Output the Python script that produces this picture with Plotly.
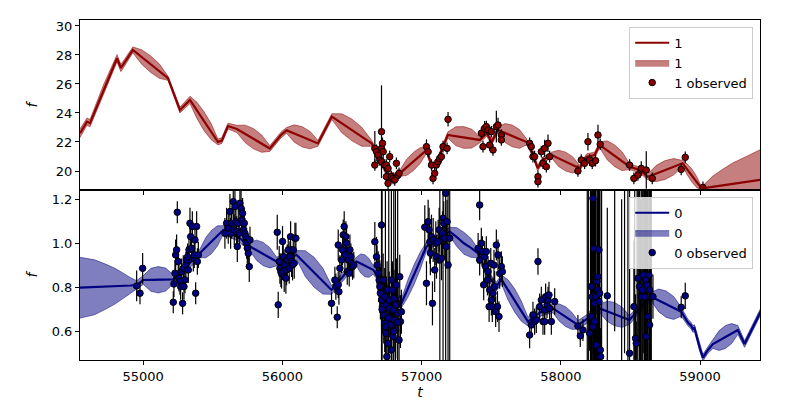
import plotly.graph_objects as go
from plotly.subplots import make_subplots

# ---------------- Top panel (series "1") : model knots ----------------
m1_t = [54546, 54596, 54618, 54715, 54812, 54840, 54926, 54989, 55052, 55115, 55178, 55264, 55336,
        55386, 55436, 55487, 55537, 55565, 55609, 55673, 55732, 55791, 55851, 55910, 55990, 56030,
        56086, 56143, 56199, 56255, 56355, 56427, 56499, 56570, 56642, 56750, 56822, 56843, 56891,
        56940, 56988, 57037, 57073, 57116, 57188, 57245, 57303, 57361, 57418, 57468, 57504, 57547,
        57599, 57651, 57703, 57755, 57798, 57834, 57870, 57934, 57984, 58035, 58085, 58135, 58186,
        58243, 58279, 58333, 58387, 58440, 58494, 58566, 58624, 58687, 58750, 58812, 58875, 58909,
        58943, 58977, 59011, 59040, 59090, 59160, 59234, 59330, 59440]
m1_mean = [22.6, 23.4, 23.3, 25.6, 27.77, 27.1, 28.35, 27.86, 27.38, 26.89, 26.4, 24.2, 24.9,
           24.18, 23.45, 22.73, 22.0, 22.1, 23.1, 22.9, 22.56, 22.23, 21.89, 21.55, 22.48, 22.8,
           22.58, 22.35, 22.13, 21.9, 23.75, 23.29, 22.83, 22.36, 21.9, 19.84, 19.6, 19.84, 20.24,
           20.65, 21.05, 21.45, 20.3, 20.76, 22.48, 22.4, 22.31, 22.23, 22.14, 22.6, 22.0, 22.83,
           22.62, 22.42, 22.21, 22.0, 21.2, 20.19, 20.76, 21.1, 20.87, 20.65, 20.42, 20.19, 20.99,
           21.1, 21.8, 21.43, 21.05, 20.68, 20.3, 20.07, 19.6, 19.83, 20.07, 20.3, 20.53, 20.1,
           19.67, 19.23, 18.8, 18.84, 18.91, 19.0, 19.1, 19.24, 19.4]
m1_hw = [0.3, 0.25, 0.25, 0.35, 0.25, 0.25, 0.2, 0.5, 0.57, 0.5, 0.15, 0.2, 0.25,
         0.56, 0.65, 0.56, 0.2, 0.2, 0.2, 0.25, 0.6, 0.7, 0.6, 0.2, 0.2, 0.2,
         0.6, 0.7, 0.6, 0.2, 0.2, 0.65, 0.75, 0.65, 0.2, 0.2, 0.2, 0.2, 0.55,
         0.63, 0.55, 0.2, 0.2, 0.2, 0.2, 0.65, 0.75, 0.65, 0.2, 0.2, 0.2, 0.2,
         0.65, 0.75, 0.65, 0.2, 0.2, 0.2, 0.2, 0.2, 0.56, 0.65, 0.56, 0.2, 0.2,
         0.2, 0.2, 0.65, 0.75, 0.65, 0.2, 0.2, 0.2, 0.56, 0.65, 0.56, 0.2, 0.38,
         0.45, 0.38, 0.1, 0.35, 0.72, 1.1, 1.45, 1.75, 2.1]

o1_t = [56664, 56676, 56664, 56688, 56700, 56712, 56712, 56719, 56724, 56712, 56735, 56747, 56747,
        56759, 56759, 56771, 56783, 56795, 56807, 56819, 56831, 56838, 57035, 57047, 57071, 57082,
        57094, 57106, 57118, 57130, 57142, 57154, 57183, 57190, 57429, 57441, 57453, 57465, 57477,
        57489, 57501, 57513, 57537, 57549, 57573, 57573, 57776, 57788, 57800, 57812, 57836, 57836,
        57860, 57872, 57884, 57896, 57908, 57920, 58123, 58147, 58171, 58195, 58207, 58226, 58250,
        58267, 58283, 58494, 58525, 58554, 58578, 58614, 58657, 58865, 58894, 59021]
o1_f = [21.56, 21.33, 20.41, 21.10, 20.76, 22.71, 21.56, 21.91, 21.33, 20.64, 20.41, 20.41, 19.61,
        20.18, 19.15, 20.99, 19.61, 19.49, 19.38, 20.53, 19.72, 19.84, 21.68, 21.33, 20.41, 19.49,
        19.84, 20.41, 20.64, 20.87, 20.99, 21.68, 21.56, 23.56, 22.60, 21.68, 22.94, 23.06, 22.83,
        21.79, 22.71, 21.45, 23.06, 23.17, 22.48, 22.14, 21.91, 21.68, 20.99, 20.99, 19.61, 19.26,
        21.33, 20.53, 21.56, 20.30, 21.91, 20.99, 20.00, 20.76, 20.53, 22.02, 20.76, 20.53, 20.71,
        22.48, 21.84, 20.41, 19.49, 19.72, 20.18, 20.07, 19.49, 20.11, 20.94, 18.87]
o1_e = [1.2, 0.5, 0.4, 0.4, 0.4, 3.2, 0.5, 0.4, 0.5, 0.4, 0.4, 0.4, 0.4,
        0.4, 0.4, 0.4, 0.4, 0.4, 0.4, 0.4, 0.4, 0.4, 0.5, 0.4, 0.4, 0.4,
        0.4, 0.4, 0.4, 0.4, 0.4, 0.4, 0.4, 0.5, 0.4, 0.4, 0.5, 0.4, 0.4,
        0.4, 0.4, 0.4, 1.1, 0.5, 0.4, 0.4, 0.4, 0.4, 0.4, 0.4, 0.4, 0.4,
        0.4, 0.4, 0.6, 0.4, 0.6, 0.4, 0.4, 0.4, 0.4, 0.6, 0.4, 0.4, 0.4,
        0.7, 0.4, 0.4, 0.4, 0.4, 0.5, 1.3, 0.4, 0.4, 0.4, 0.4]

# ---------------- Bottom panel (series "0") : model knots ----------------
m0_t = [54546, 54650, 54738, 54800, 54857, 54910, 54953, 55001, 55055, 55109, 55162, 55216, 55270,
        55408, 55450, 55490, 55533, 55575, 55680, 55767, 55815, 55862, 55910, 55958, 56030, 56102,
        56165, 56228, 56290, 56353, 56450, 56532, 56562, 56592, 56622, 56652, 56750, 56855, 56900,
        56945, 56990, 57035, 57120, 57202, 57253, 57304, 57355, 57406, 57480, 57537, 57573, 57621,
        57669, 57716, 57764, 57860, 57944, 57989, 58034, 58078, 58123, 58195, 58231, 58279, 58333,
        58386, 58440, 58494, 58560, 58650, 58704, 58757, 58811, 58865, 58913, 58937, 58949, 58960,
        58997, 59021, 59057, 59093, 59138, 59183, 59228, 59272, 59320, 59440]
m0_mean = [0.798, 0.80, 0.803, 0.805, 0.807, 0.808, 0.81, 0.833, 0.834, 0.834, 0.835, 0.836, 0.87,
           0.954, 0.98, 1.005, 1.033, 1.06, 1.03, 0.985, 0.968, 0.951, 0.934, 0.917, 0.93, 0.947,
           0.907, 0.868, 0.828, 0.788, 0.86, 0.917, 0.908, 0.898, 0.888, 0.879, 0.80, 0.727, 0.792,
           0.856, 0.92, 0.985, 1.02, 1.053, 1.028, 1.0, 0.979, 0.954, 0.85, 0.803, 0.836, 0.788,
           0.74, 0.692, 0.644, 0.69, 0.704, 0.685, 0.667, 0.648, 0.629, 0.659, 0.69, 0.704, 0.691,
           0.678, 0.664, 0.651, 0.70, 0.757, 0.74, 0.723, 0.706, 0.689, 0.64, 0.625, 0.61, 0.615,
           0.527, 0.48, 0.515, 0.542, 0.558, 0.574, 0.59, 0.606, 0.542, 0.695]
m0_hw = [0.138, 0.125, 0.1, 0.08, 0.057, 0.035, 0.02, 0.02, 0.052, 0.06, 0.052, 0.02, 0.02,
         0.02, 0.046, 0.053, 0.046, 0.02, 0.02, 0.02, 0.046, 0.053, 0.046, 0.02, 0.02, 0.02,
         0.059, 0.068, 0.059, 0.02, 0.02, 0.02, 0.043, 0.05, 0.043, 0.02, 0.02, 0.02, 0.039,
         0.045, 0.039, 0.02, 0.02, 0.02, 0.043, 0.05, 0.043, 0.02, 0.02, 0.02, 0.02, 0.046,
         0.053, 0.046, 0.02, 0.02, 0.02, 0.039, 0.045, 0.039, 0.02, 0.02, 0.02, 0.02, 0.046,
         0.053, 0.046, 0.02, 0.02, 0.02, 0.052, 0.06, 0.052, 0.02, 0.015, 0.015, 0.015, 0.015,
         0.015, 0.015, 0.015, 0.02, 0.045, 0.052, 0.045, 0.02, 0.015, 0.015]

o0_t = [54953, 54977, 54996,
        55216, 55221, 55228, 55233, 55240, 55245, 55252, 55257, 55264, 55269, 55276, 55283, 55288,
        55293, 55300, 55307, 55312, 55319, 55324, 55329, 55336, 55341, 55348, 55353, 55360, 55367,
        55372, 55377, 55384, 55389, 55396,
        55587, 55599, 55611, 55623, 55628, 55635, 55647, 55654, 55659, 55666, 55671, 55676, 55683,
        55690, 55695, 55703, 55707, 55714, 55719, 55726, 55731, 55738, 55743, 55748, 55755, 55762,
        55767,
        55963, 55970, 55977, 55982, 55989, 55994, 56001, 56006, 56013, 56018, 56025, 56030, 56035,
        56042, 56049, 56054, 56059, 56066, 56073, 56078, 56085, 56090, 56097,
        56353, 56377, 56384, 56394, 56401, 56406, 56401, 56413, 56425, 56432, 56437, 56444, 56449,
        56456, 56461, 56466, 56473, 56480, 56485, 56492, 56497, 56504, 56513,
        56664, 56676, 56680, 56688, 56695, 56700, 56704, 56712, 56712, 56719, 56724, 56728, 56735,
        56735, 56743, 56747, 56752, 56759, 56759, 56767, 56771, 56776, 56783, 56783, 56791, 56795,
        56795, 56802, 56807, 56814, 56819, 56824, 56831, 56838, 56843, 56848, 56855, 56750,
        56716, 56740, 56764, 56800, 56812, 56828,
        57023, 57035, 57047, 57054, 57059, 57063, 57071, 57078, 57083, 57094, 57102, 57107, 57119,
        57126, 57131, 57143, 57150, 57154, 57159, 57166, 57173, 57178, 57183, 57190, 57202,
        57406, 57417, 57417, 57429, 57437, 57446, 57453, 57461, 57465, 57473, 57477, 57485, 57489,
        57497, 57501, 57508, 57513, 57520, 57525, 57532, 57537, 57545, 57549, 57556, 57561, 57573,
        57580,
        57776, 57788, 57800, 57812, 57824, 57836, 57848, 57860, 57872, 57884, 57891, 57901, 57908,
        57915, 57920, 57932, 57956, 57884,
        58123, 58140, 58159, 58207, 58219, 58219, 58226, 58231, 58236, 58243, 58250, 58255, 58260,
        58267, 58267, 58274, 58279, 58284, 58286, 58231, 58243, 58274, 58334,
        58190, 58198, 58213, 58222, 58238, 58247, 58262, 58271, 58290, 58293, 58387, 58437,
        58494, 58525, 58537, 58542, 58554, 58566, 58578, 58585, 58590, 58602, 58609, 58614, 58619,
        58626, 58633, 58638, 58638, 58662,
        58458, 58482, 58531, 58548, 58560, 58572, 58596, 58622, 58645, 58650,
        58865, 58894]
o0_f = [0.806, 0.773, 0.886,
        0.732, 0.815, 0.864, 0.947, 0.970, 1.141, 0.917, 0.841, 0.826, 0.803, 0.871, 0.727, 0.886,
        0.803, 0.833, 0.901, 0.924, 0.939, 0.879, 0.970, 1.091, 1.030, 0.977, 1.076, 0.932, 0.947,
        1.015, 0.773, 1.076, 0.917, 0.947,
        1.045, 1.091, 1.068, 1.144, 1.045, 1.091, 1.189, 1.061, 1.167, 1.098, 1.053, 0.985, 1.091,
        1.045, 1.182, 1.159, 1.106, 1.136, 1.061, 1.091, 1.045, 1.030, 1.000, 0.977, 0.954, 0.894,
        1.015,
        1.050, 0.720, 0.917, 0.886, 0.871, 0.864, 1.008, 0.939, 0.848, 0.901, 0.841, 0.879, 0.924,
        0.970, 0.886, 0.939, 1.030, 0.917, 0.901, 0.970, 0.909, 1.023, 1.023,
        0.727, 0.833, 0.803, 0.664, 0.811, 0.780, 0.992, 0.886, 0.924, 0.970, 1.038, 1.076, 0.947,
        1.030, 1.000, 0.871, 0.924, 0.864, 0.970, 0.939, 0.909, 0.894, 0.901,
        1.007, 0.939, 0.901, 0.864, 0.833, 0.803, 0.773, 1.083, 0.742, 0.712, 0.833, 0.674, 0.636,
        0.757, 0.591, 0.719, 0.788, 0.545, 0.667, 0.742, 0.704, 0.629, 0.833, 0.515, 0.788, 0.697,
        0.576, 0.750, 0.651, 0.606, 0.811, 0.719, 0.682, 0.560, 0.848, 0.644, 0.689, 0.485,
        0.70, 0.62, 0.66, 0.60, 0.72, 0.64,
        1.073, 0.818, 1.098, 1.061, 1.007, 0.955, 1.030, 0.727, 1.015, 0.879, 1.000, 0.939, 1.007,
        1.061, 0.924, 0.932, 1.045, 1.114, 1.091, 1.023, 1.227, 0.985, 1.098, 0.901, 1.023,
        0.977, 1.174, 0.924, 1.000, 0.962, 0.811, 0.939, 0.894, 0.962, 0.833, 0.871, 0.712, 0.788,
        0.909, 0.742, 0.712, 0.773, 0.901, 0.803, 0.689, 0.992, 0.712, 0.947, 0.667, 0.863, 0.894,
        0.871,
        0.583, 0.629, 0.674, 0.644, 0.652, 0.917, 0.712, 0.742, 0.644, 0.697, 0.757, 0.720, 0.742,
        0.765, 0.704, 0.644, 0.735, 0.644,
        0.624, 0.579, 0.606, 0.591, 0.667, 0.803, 0.757, 1.204, 0.977, 0.727, 0.757, 0.538, 0.826,
        0.788, 0.848, 0.970, 0.773, 0.515, 0.485, 0.621, 0.644, 0.735, 0.761,
        0.30, 1.40, 0.25, 1.50, 0.35, 1.45, 0.20, 1.55, 0.30, 1.40, 1.60, 0.20,
        0.500, 0.712, 0.568, 0.545, 0.841, 0.803, 0.757, 0.788, 0.856, 0.757, 0.833, 0.576, 0.810,
        0.667, 0.856, 0.629, 0.788, 0.757,
        1.50, 0.25, 1.45, 0.30, 1.55, 0.20, 1.50, 0.25, 1.45, 0.30,
        0.709, 0.761]
o0_e = [0.07, 0.05, 0.07,
        0.05, 0.06, 0.06, 0.07, 0.07, 0.05, 0.06, 0.06, 0.06, 0.06, 0.06, 0.05, 0.06,
        0.06, 0.06, 0.06, 0.06, 0.06, 0.06, 0.06, 0.07, 0.07, 0.06, 0.07, 0.06, 0.06,
        0.07, 0.05, 0.07, 0.06, 0.06,
        0.07, 0.07, 0.07, 0.08, 0.07, 0.07, 0.08, 0.07, 0.08, 0.07, 0.07, 0.07, 0.07,
        0.07, 0.08, 0.08, 0.07, 0.07, 0.07, 0.07, 0.07, 0.07, 0.07, 0.07, 0.07, 0.07,
        0.06,
        0.08, 0.06, 0.07, 0.07, 0.07, 0.07, 0.07, 0.07, 0.07, 0.07, 0.07, 0.07, 0.07,
        0.07, 0.07, 0.07, 0.07, 0.07, 0.07, 0.07, 0.07, 0.07, 0.07,
        0.05, 0.06, 0.06, 0.05, 0.06, 0.06, 0.07, 0.06, 0.06, 0.07, 0.07, 0.07, 0.07,
        0.07, 0.07, 0.06, 0.06, 0.06, 0.07, 0.06, 0.06, 0.06, 0.06,
        0.09, 0.09, 0.09, 0.1, 0.1, 0.12, 0.12, 0.8, 0.12, 0.12, 0.12, 0.13, 0.13,
        0.13, 0.13, 0.13, 0.13, 0.13, 0.13, 0.13, 0.13, 0.13, 0.8, 0.13, 0.13, 0.13,
        0.13, 0.13, 0.13, 0.13, 0.12, 0.12, 0.12, 0.12, 0.1, 0.12, 0.1, 0.1,
        0.8, 0.8, 0.8, 0.8, 0.8, 0.8,
        0.1, 0.1, 0.1, 0.1, 0.1, 0.1, 0.1, 0.1, 0.1, 0.1, 0.1, 0.1, 0.1,
        0.1, 0.8, 0.1, 0.1, 0.8, 0.1, 0.1, 0.8, 0.1, 0.1, 0.8, 0.8,
        0.07, 0.07, 0.07, 0.07, 0.07, 0.07, 0.07, 0.07, 0.07, 0.07, 0.07, 0.07, 0.07,
        0.07, 0.07, 0.07, 0.07, 0.07, 0.07, 0.07, 0.07, 0.07, 0.07, 0.07, 0.07, 0.07,
        0.07,
        0.06, 0.06, 0.06, 0.06, 0.06, 0.06, 0.06, 0.06, 0.06, 0.06, 0.06, 0.06, 0.06,
        0.06, 0.06, 0.06, 0.06, 0.06,
        0.05, 0.05, 0.05, 0.08, 0.9, 0.8, 0.7, 0.6, 0.9, 1.0, 0.8, 0.1, 0.9,
        0.6, 0.8, 0.7, 0.9, 0.1, 0.1, 0.7, 0.8, 0.9, 0.4,
        1.0, 1.0, 1.0, 1.0, 1.0, 1.0, 1.0, 1.0, 1.0, 1.0, 1.0, 1.0,
        0.8, 0.3, 0.2, 0.1, 0.8, 0.9, 1.0, 0.8, 0.9, 1.0, 0.8, 0.9, 1.0,
        0.8, 0.9, 0.1, 0.8, 0.1,
        1.0, 1.0, 1.0, 1.0, 1.0, 1.0, 1.0, 1.0, 1.0, 1.0,
        0.05, 0.06]

RED = "#8b0000"
RED_FILL = "rgba(139,0,0,0.5)"
NAVY = "#000080"
NAVY_FILL = "rgba(0,0,128,0.5)"
FONT = "DejaVu Sans"

fig = make_subplots(rows=2, cols=1, shared_xaxes=True, vertical_spacing=0)


def add_panel(row, t, mean, hw, ot, of, oe, name, color, fill, legend):
    lo = [m - h for m, h in zip(mean, hw)]
    hi = [m + h for m, h in zip(mean, hw)]
    fig.add_trace(go.Scatter(x=t, y=lo, mode="lines", line=dict(color=fill, width=1),
                             showlegend=False, hoverinfo="skip", legend=legend), row=row, col=1)
    fig.add_trace(go.Scatter(x=t, y=hi, mode="lines", fill="tonexty", fillcolor=fill,
                             line=dict(color=fill, width=1),
                             name=name, legendrank=2, legend=legend), row=row, col=1)
    fig.add_trace(go.Scatter(x=t, y=mean, mode="lines", line=dict(color=color, width=2.2),
                             name=name, legendrank=1, legend=legend), row=row, col=1)
    fig.add_trace(go.Scatter(x=ot, y=of, mode="markers",
                             marker=dict(color=color, size=6.5, line=dict(color="black", width=1)),
                             error_y=dict(type="data", array=oe, color="black", thickness=1.2, width=0),
                             name=name + " observed", legendrank=3, legend=legend), row=row, col=1)


add_panel(1, m1_t, m1_mean, m1_hw, o1_t, o1_f, o1_e, "1", RED, RED_FILL, "legend")
add_panel(2, m0_t, m0_mean, m0_hw, o0_t, o0_f, o0_e, "0", NAVY, NAVY_FILL, "legend2")

axis_common = dict(showline=True, linecolor="black", linewidth=1, mirror=True, ticks="outside",
                   ticklen=4, tickcolor="black", showgrid=False, zeroline=False, automargin=False,
                   tickfont=dict(family=FONT, size=13, color="black"))

fig.update_xaxes(range=[54546, 59431], tickvals=[55000, 56000, 57000, 58000, 59000], **axis_common)
fig.update_xaxes(showticklabels=False, row=1, col=1)
fig.update_xaxes(ticktext=["55000", "56000", "57000", "58000", "59000"],
                 title=dict(text="<i>t</i>", font=dict(family=FONT, size=14, color="black"), standoff=4),
                 row=2, col=1)
fig.update_yaxes(**axis_common)
fig.update_yaxes(range=[18.69, 30.41], tickvals=[20, 22, 24, 26, 28, 30],
                 title=dict(text="<i>f</i>", font=dict(family=FONT, size=14, color="black"), standoff=14),
                 row=1, col=1)
fig.update_yaxes(range=[0.4695, 1.242], tickvals=[0.6, 0.8, 1.0, 1.2], ticktext=["0.6", "0.8", "1.0", "1.2"],
                 title=dict(text="<i>f</i>", font=dict(family=FONT, size=14, color="black"), standoff=10),
                 row=2, col=1)

legend_style = dict(bgcolor="rgba(255,255,255,0.8)", bordercolor="#cccccc", borderwidth=1,
                    font=dict(family=FONT, size=13, color="black"), xanchor="right", yanchor="top",
                    tracegroupgap=0, itemwidth=34, traceorder="normal")
# The page body has an 8 px margin, so the figure is drawn 8 px in from the top-left corner.
fig.update_layout(
    width=792, height=392,
    margin=dict(l=72, r=40, t=12, b=40),
    paper_bgcolor="white", plot_bgcolor="white",
    font=dict(family=FONT, size=13, color="black"),
    legend=dict(x=0.99, y=0.98, **legend_style),
    legend2=dict(x=0.99, y=0.48, **legend_style),
)

fig.write_html("out.html")
